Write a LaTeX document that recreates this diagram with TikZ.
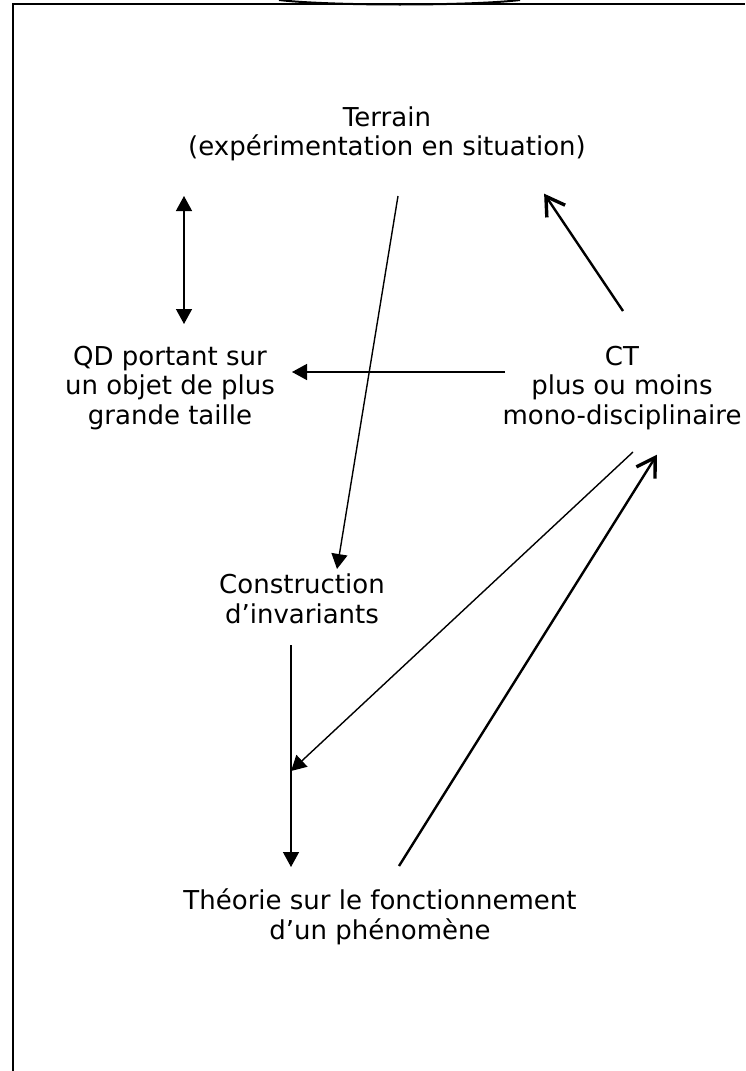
\documentclass[tikz,border=0pt]{standalone}
\usepackage{fontspec}
\setmainfont{DejaVu Sans}
\usetikzlibrary{arrows.meta}
\tikzset{
  box/.style={align=center,inner sep=0pt,font=\fontsize{26}{29.5}\selectfont},
  fillhead/.tip={Triangle[length=15pt,width=16pt]},
  thin arrow/.style={-fillhead,line width=1.4pt},
  open arrow/.style={-{Straight Barb[length=18pt,width=22pt,line width=3.4pt]},line width=2.4pt,shorten >=2pt}
}
\begin{document}
\begin{tikzpicture}[x=1pt,y=-1pt]
  \useasboundingbox (0,0) rectangle (745,1071);
  %frame
  \draw[line width=2pt] (13,1071) -- (13,4) -- (745,4);
  \draw[line width=2pt] (279,0) .. controls (330,6) and (470,6) .. (520,0);

  %texts
  \node[box] (terrain) at (387,134) {Terrain\\(expérimentation en situation)};
  \node[box] (qd) at (170,388) {QD portant sur\\un objet de plus\\grande taille};
  \node[box] (ct) at (622,388) {CT\\plus ou moins\\mono-disciplinaire};
  \node[box] (inv) at (302,599) {Construction\\d’invariants};
  \node[box] (theo) at (380,917) {Théorie sur le fonctionnement\\d’un phénomène};

  %end points of the connectors
  \coordinate (a1) at (184,196);
  \coordinate (a2) at (184,324);
  \coordinate (t1) at (398,196);
  \coordinate (t2) at (337,569);
  \coordinate (c1) at (505,372);
  \coordinate (c2) at (292,372);
  \coordinate (c3) at (623,311);
  \coordinate (c4) at (543,192);
  \coordinate (c5) at (633,452);
  \coordinate (i1) at (291,645);
  \coordinate (i2) at (291,867);
  \coordinate (im) at (291,771);
  \coordinate (h1) at (399,866);
  \coordinate (h2) at (658,453);

  \draw[thin arrow,fillhead-fillhead] (a1) -- (a2);
  \draw[thin arrow] (t1) -- (t2);
  \draw[thin arrow] (c1) -- (c2);
  \draw[open arrow] (c3) -- (c4);
  \draw[thin arrow] (c5) -- (im);
  \draw[thin arrow] (i1) -- (i2);
  \draw[open arrow] (h1) -- (h2);
\end{tikzpicture}
\end{document}
